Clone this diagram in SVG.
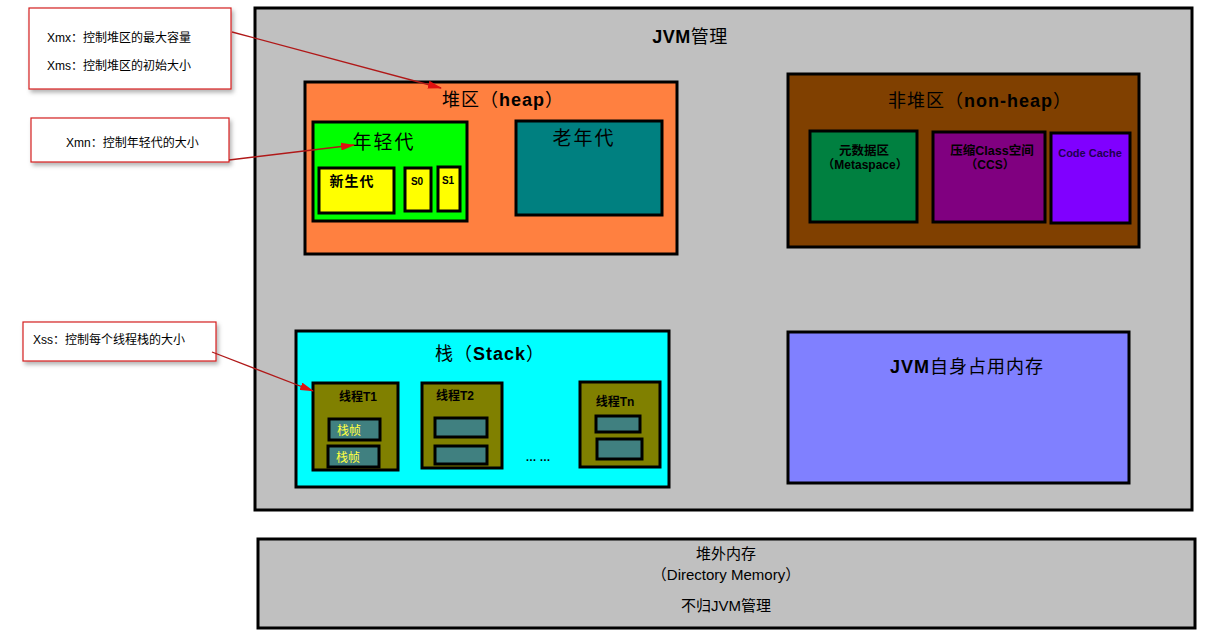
<svg xmlns="http://www.w3.org/2000/svg" width="1218" height="640" viewBox="0 0 1218 640">
<style>
text{font-family:"Liberation Sans","Noto Sans CJK SC",sans-serif;fill:#000}
.b{stroke:#000;stroke-width:3}
.call{fill:#fff;stroke:#D42020;stroke-width:1.2}
.ct{font-size:12px}
.conn{stroke:#B01818;stroke-width:1.3;fill:none}
.t18{font-size:18px}
.bd{font-weight:bold}
</style>
<defs>
<filter id="sh" x="-10%" y="-10%" width="130%" height="140%">
<feDropShadow dx="2" dy="3" stdDeviation="2" flood-color="#000" flood-opacity="0.3"/>
</filter>
<marker id="ar" markerWidth="14" markerHeight="8" refX="13" refY="4" orient="auto" markerUnits="userSpaceOnUse">
<path d="M0,0 L14,4 L0,8 Z" fill="#E01010"/>
</marker>
</defs>
<rect width="1218" height="640" fill="#fff"/>

<g id="jvm">
<rect x="255" y="8" width="937" height="502" fill="#C0C0C0" class="b"/>
<text x="690" y="43" text-anchor="middle" class="t18" letter-spacing="0.5"><tspan class="bd">JVM</tspan>管理</text>
</g>

<g id="heap">
<rect x="305" y="82" width="372" height="172" fill="#FF8040" class="b"/>
<text x="503" y="106" text-anchor="middle" class="t18" letter-spacing="1">堆区（<tspan class="bd">heap</tspan>）</text>
</g>

<g id="young">
<rect x="313" y="122" width="154" height="99" fill="#00FF00" class="b"/>
<text x="384" y="149" text-anchor="middle" font-size="19" letter-spacing="2">年轻代</text>
</g>
<g id="eden">
<rect x="319" y="168" width="75" height="45" fill="#FFFF00" class="b"/>
<text x="352" y="186" text-anchor="middle" font-size="14" class="bd" letter-spacing="1">新生代</text>
</g>
<g id="s0">
<rect x="405" y="168" width="26" height="43" fill="#FFFF00" class="b"/>
<text x="417" y="185" text-anchor="middle" font-size="10" class="bd">S0</text>
</g>
<g id="s1">
<rect x="438" y="167" width="22" height="44" fill="#FFFF00" class="b"/>
<text x="448" y="184" text-anchor="middle" font-size="10" class="bd">S1</text>
</g>
<g id="old">
<rect x="516" y="121" width="146" height="94" fill="#008080" class="b"/>
<text x="584" y="145" text-anchor="middle" font-size="19" letter-spacing="2">老年代</text>
</g>

<g id="nonheap">
<rect x="788" y="74" width="351" height="173" fill="#804000" class="b"/>
<text x="980" y="107" text-anchor="middle" class="t18" letter-spacing="1">非堆区（<tspan class="bd">non-heap</tspan>）</text>
</g>
<g id="metaspace">
<rect x="810" y="131" width="107" height="91" fill="#008040" class="b"/>
<text x="864" y="155" text-anchor="middle" font-size="12.5" class="bd">元数据区</text>
<text x="865" y="169" text-anchor="middle" font-size="12" class="bd">（Metaspace）</text>
</g>
<g id="ccs">
<rect x="933" y="132" width="112" height="90" fill="#800080" class="b"/>
<text x="992" y="155" text-anchor="middle" font-size="12.5" class="bd">压缩Class空间</text>
<text x="990" y="169" text-anchor="middle" font-size="12" class="bd">（CCS）</text>
</g>
<g id="codecache">
<rect x="1051" y="133" width="79" height="90" fill="#8000FF" class="b"/>
<text x="1090" y="157" text-anchor="middle" font-size="11" class="bd" style="fill:#200050">Code Cache</text>
</g>

<g id="stack">
<rect x="296" y="331" width="373" height="156" fill="#00FFFF" class="b"/>
<text x="435" y="360" class="t18" letter-spacing="1">栈（<tspan class="bd">Stack</tspan>）</text>
</g>
<g id="t1">
<rect x="313" y="383" width="85" height="87" fill="#808000" class="b"/>
<text x="358" y="401" text-anchor="middle" font-size="12" class="bd">线程T1</text>
<rect x="329" y="419" width="51" height="21" fill="#408080" class="b"/>
<text x="349" y="435" text-anchor="middle" font-size="12" style="fill:#FFFF40">栈帧</text>
<rect x="328" y="446" width="51" height="21" fill="#408080" class="b"/>
<text x="348" y="462" text-anchor="middle" font-size="12" style="fill:#FFFF40">栈帧</text>
</g>
<g id="t2">
<rect x="422" y="383" width="80" height="85" fill="#808000" class="b"/>
<text x="455" y="400" text-anchor="middle" font-size="12" class="bd">线程T2</text>
<rect x="435" y="418" width="52" height="19" fill="#408080" class="b"/>
<rect x="435" y="446" width="52" height="18" fill="#408080" class="b"/>
</g>
<text x="538" y="461" text-anchor="middle" font-size="11" class="bd">… …</text>
<g id="tn">
<rect x="580" y="382" width="80" height="85" fill="#808000" class="b"/>
<text x="615" y="406" text-anchor="middle" font-size="12" class="bd">线程Tn</text>
<rect x="596" y="416" width="44" height="16" fill="#408080" class="b"/>
<rect x="597" y="439" width="45" height="20" fill="#408080" class="b"/>
</g>

<g id="jvmself">
<rect x="788" y="332" width="341" height="151" fill="#8080FF" class="b"/>
<text x="967" y="373" text-anchor="middle" class="t18" letter-spacing="1"><tspan class="bd">JVM</tspan>自身占用内存</text>
</g>

<g id="offheap">
<rect x="258" y="539" width="937" height="89" fill="#C0C0C0" class="b"/>
<text x="726" y="559" text-anchor="middle" font-size="15">堆外内存</text>
<text x="726" y="580" text-anchor="middle" font-size="15">（Directory Memory）</text>
<text x="726" y="611" text-anchor="middle" font-size="15">不归JVM管理</text>
</g>

<g id="note-xmx">
<rect x="29" y="8" width="202" height="81" class="call" filter="url(#sh)"/>
<text x="47" y="42" class="ct">Xmx：控制堆区的最大容量</text>
<text x="47" y="70" class="ct">Xms：控制堆区的初始大小</text>
</g>
<g id="note-xmn">
<rect x="31" y="118" width="198" height="44" class="call" filter="url(#sh)"/>
<text x="66" y="147" class="ct">Xmn：控制年轻代的大小</text>
</g>
<g id="note-xss">
<rect x="23" y="322" width="193" height="39" class="call" filter="url(#sh)"/>
<text x="33" y="344" class="ct">Xss：控制每个线程栈的大小</text>
</g>

<g id="connectors">
<line x1="232" y1="32" x2="441" y2="88" class="conn" marker-end="url(#ar)"/>
<line x1="229" y1="160" x2="354" y2="145" class="conn" marker-end="url(#ar)"/>
<line x1="212" y1="352" x2="313" y2="391" class="conn" marker-end="url(#ar)"/>
</g>
</svg>
